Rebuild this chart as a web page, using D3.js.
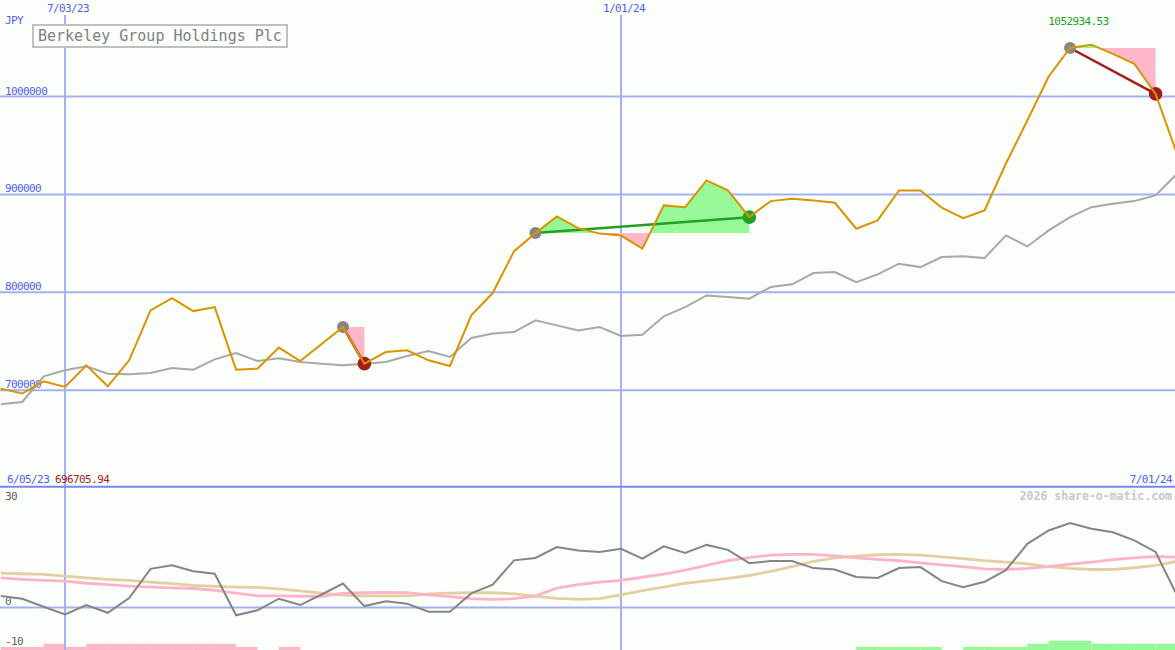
<!DOCTYPE html>
<html><head><meta charset="utf-8">
<script src="https://cdn.jsdelivr.net/npm/d3@7"></script>
<style>
html,body{margin:0;padding:0;background:#fbfefb;}
svg{display:block;}
text{font-family:"DejaVu Sans Mono",monospace;}
</style></head>
<body>
<svg id="c" width="1175" height="650"></svg>
<script>
// ---- data ----
const startDate = new Date(Date.UTC(2023,5,12));
const endDate = new Date(Date.UTC(2024,6,2));
const dates = d3.utcMonday.range(startDate, endDate);

const price = [701700,696705.94,709200,703400,725500,704100,730600,781600,794200,780900,
785000,721100,722100,743600,729900,747200,764600,727200,739100,740800,
730600,724800,776500,799300,842100,860500,877600,865600,860000,858000,
844600,888800,887000,914300,904100,876800,893200,895600,893900,891500,
865000,873500,904100,904100,886400,875800,883700,931600,975500,1020400,
1049500,1052934.53,1043500,1033400,1002700,941500];

const index = [685700,688100,714300,720400,724500,717000,716300,717700,722800,721100,
731600,738100,729900,732700,728900,727200,725500,727200,728900,735000,
740100,734000,753400,757900,759500,771400,766300,761200,764600,755400,
756800,775500,785000,796900,795200,793600,805400,808200,819700,820700,
810500,818400,829300,825800,836000,837000,835000,858200,846900,863300,
876800,887000,890500,893200,899000,921100];

const momentum = [3.3,2.5,0.2,-2.0,0.7,-1.5,2.7,11.0,12.0,10.3,
9.6,-2.2,-0.8,2.5,0.7,3.7,6.8,0.4,1.8,1.1,
-1.2,-1.2,4.0,6.5,13.4,14.1,17.2,16.2,15.8,16.7,
13.9,17.4,15.5,17.8,16.4,12.6,13.2,13.2,11.2,10.8,
8.7,8.4,11.2,11.5,7.5,5.8,7.3,10.6,18.1,21.9,
24.0,22.4,21.4,19.1,15.8,3.5];

const fastAvg = [8.4,8.0,7.7,7.5,6.9,6.5,6.1,5.8,5.6,5.4,
4.9,4.1,3.3,3.3,3.2,3.2,4.0,4.2,4.3,4.2,
3.6,3.1,2.5,2.3,2.5,3.3,5.5,6.5,7.2,7.7,
8.6,9.5,10.6,12.0,13.3,14.2,14.9,15.1,15.1,14.7,
14.1,13.7,13.3,12.7,12.1,11.6,11.0,10.8,11.1,11.6,
12.3,12.9,13.6,14.1,14.5,14.3];

const slowAvg = [9.8,9.6,9.4,8.9,8.4,8.0,7.7,7.2,6.8,6.3,
6.0,5.8,5.7,5.3,4.7,4.1,3.5,3.3,3.3,3.3,
3.9,4.1,4.2,4.2,3.9,3.2,2.6,2.3,2.5,3.6,
4.8,5.8,6.9,7.6,8.3,9.1,10.3,11.6,13.1,14.1,
14.6,15.0,15.1,14.9,14.4,13.9,13.3,12.9,12.4,11.6,
11.1,10.8,10.8,11.3,12.0,13.1];

const strength = [-1,-1,-2,-1,-2,-2,-2,-2,-2,-2,
-2,-1,0,-1,0,0,0,0,0,0,
0,0,0,0,0,0,0,0,0,0,
0,0,0,0,0,0,0,0,0,0,
1,1,1,1,0,1,1,1,2,3,
3,2,2,2,2,2];

const signalEntry = [16,25,50];
const signalExit  = [17,35,54];

const priceTicks = [700000,800000,900000,1000000];
const lowerTicks = [30,0,-10];
const dateTicks = [new Date(Date.UTC(2023,6,3)), new Date(Date.UTC(2024,0,1))];
const tickFmt = d3.utcFormat("%-m/%d/%y");
const title = "Berkeley Group Holdings Plc";
const currency = "JPY";
const headerLeftDate = new Date(Date.UTC(2023,5,5));
const headerRightDate = new Date(Date.UTC(2024,6,1));
const watermark = "2026 share-o-matic.com";

// ---- scales ----
const W = 1175, H = 650;
const svg = d3.select("#c");
const x = d3.scaleUtc().domain(dateTicks).range([65,621]);
const y = d3.scaleLinear().domain([700000,1000000]).range([390.3,96.5]);
const yl = d3.scaleLinear().domain([0,30]).range([607.5,502]);
const hb = d3.scaleLinear().domain([0,3]).range([0,9.3]);

const C = {grid:"#a3b1f2", sep:"#7787ee", blue:"#4f5ff0", orange:"#d99400", grey:"#a8a8a8",
  dgrey:"#858585", pink:"#ffb3c9", tan:"#e3cf9f", gfill:"#97f897", pfill:"#feb6c9",
  green:"#22a022", red:"#a41c1c", dot:"#858585"};

// bars at bottom of lower panel
const barG = svg.append("g");
dates.forEach((d,i)=>{
  const v = strength[i];
  if(!v) return;
  const x0 = x(d), x1 = i+1<dates.length ? x(dates[i+1]) : x(d)+21.4;
  barG.append("rect").attr("x",x0).attr("width",x1-x0)
    .attr("y",H-hb(Math.abs(v))).attr("height",hb(Math.abs(v)))
    .attr("fill", v<0 ? C.pfill : C.gfill);
});

// gridlines
svg.append("g").selectAll("line").data(priceTicks).join("line")
  .attr("x1",0).attr("x2",W).attr("y1",d=>y(d)).attr("y2",d=>y(d))
  .attr("stroke",C.grid).attr("stroke-width",2);
svg.append("line").attr("x1",0).attr("x2",W).attr("y1",yl(0)).attr("y2",yl(0))
  .attr("stroke",C.grid).attr("stroke-width",2);
svg.append("g").selectAll("line").data(dateTicks).join("line")
  .attr("x1",d=>x(d)).attr("x2",d=>x(d)).attr("y1",15).attr("y2",H)
  .attr("stroke",C.grid).attr("stroke-width",2);
svg.append("line").attr("x1",0).attr("x2",W).attr("y1",486.8).attr("y2",486.8)
  .attr("stroke",C.sep).attr("stroke-width",2);

// axis labels
svg.append("g").selectAll("text").data(dateTicks).join("text")
  .attr("x",d=>x(d)+3).attr("y",12).attr("text-anchor","middle")
  .attr("font-size",11).attr("letter-spacing",-0.6).attr("fill",C.blue).text(d=>tickFmt(d));
svg.append("g").selectAll("text").data(priceTicks).join("text")
  .attr("x",5).attr("y",d=>y(d)-2).attr("font-size",11).attr("letter-spacing",-0.6)
  .attr("fill",C.blue).text(d=>d);
svg.append("text").attr("x",5).attr("y",24).attr("font-size",11).attr("letter-spacing",-0.6)
  .attr("fill",C.blue).text(currency);
svg.append("g").selectAll("text").data(lowerTicks).join("text")
  .attr("x",5).attr("y",d=>yl(d)-2.3+(d<0?5:0)).attr("font-size",11).attr("letter-spacing",-0.6)
  .attr("fill","#606060").text(d=>d);

// header row of lower panel
svg.append("text").attr("x",7).attr("y",483).attr("font-size",11).attr("letter-spacing",-0.6)
  .attr("fill",C.blue).text(tickFmt(headerLeftDate));
svg.append("text").attr("x",55).attr("y",483).attr("font-size",11).attr("letter-spacing",-0.6)
  .attr("fill",C.red).text(d3.min(price).toFixed(2));
svg.append("text").attr("x",1172).attr("y",483).attr("text-anchor","end").attr("font-size",11).attr("letter-spacing",-0.6)
  .attr("fill",C.blue).text(tickFmt(headerRightDate));
svg.append("text").attr("x",1172).attr("y",500).attr("text-anchor","end").attr("font-size",11.5)
  .attr("font-weight","bold").attr("fill","#c8c8c8").text(watermark);

// title box
svg.append("rect").attr("x",33).attr("y",25).attr("width",254).attr("height",22)
  .attr("fill","#fbfefb").attr("stroke","#c0c0c0").attr("stroke-width",2);
svg.append("text").attr("x",38).attr("y",41).attr("font-size",15).attr("fill","#808080").text(title);

// lower panel lines
const ll = arr => d3.line().x((d,i)=>x(dates[i])).y(d=>yl(d))(arr);
svg.append("path").attr("d",ll(slowAvg)).attr("fill","none").attr("stroke",C.tan).attr("stroke-width",2.8);
svg.append("path").attr("d",ll(fastAvg)).attr("fill","none").attr("stroke",C.pink).attr("stroke-width",2.8);
svg.append("path").attr("d",ll(momentum)).attr("fill","none").attr("stroke",C.dgrey).attr("stroke-width",2);

// upper: index line
const lu = arr => d3.line().x((d,i)=>x(dates[i])).y(d=>y(d))(arr);
svg.append("path").attr("d",lu(index)).attr("fill","none").attr("stroke",C.grey).attr("stroke-width",2);

// signal fills
const defs = svg.append("defs");
signalEntry.forEach((e,s)=>{
  const xi = signalExit[s];
  const ye = y(price[e]);
  const idx = d3.range(e, xi+1);
  const area = d3.area().x(i=>x(dates[i])).y0(ye).y1(i=>y(price[i]))(idx);
  defs.append("clipPath").attr("id","up"+s).append("rect").attr("x",0).attr("y",0).attr("width",W).attr("height",ye);
  defs.append("clipPath").attr("id","dn"+s).append("rect").attr("x",0).attr("y",ye).attr("width",W).attr("height",486-ye);
  svg.append("path").attr("d",area).attr("fill",C.gfill).attr("clip-path","url(#up"+s+")");
  svg.append("path").attr("d",area).attr("fill",C.pfill).attr("clip-path","url(#dn"+s+")");
});
// signal lines & dots
signalEntry.forEach((e,s)=>{
  const xi = signalExit[s];
  const gain = price[xi] >= price[e];
  svg.append("line").attr("x1",x(dates[e])).attr("y1",y(price[e]))
    .attr("x2",x(dates[xi])).attr("y2",y(price[xi]))
    .attr("stroke",gain?C.green:C.red).attr("stroke-width",2.5);
  svg.append("circle").attr("cx",x(dates[e])).attr("cy",y(price[e])).attr("r",6).attr("fill",C.dot);
  svg.append("circle").attr("cx",x(dates[xi])).attr("cy",y(price[xi])).attr("r",6.8).attr("fill",gain?C.green:C.red);
});

// price line
svg.append("path").attr("d",lu(price)).attr("fill","none").attr("stroke",C.orange).attr("stroke-width",2);

// max label
const mi = d3.maxIndex(price);
svg.append("text").attr("x",x(dates[mi])-13).attr("y",25).attr("text-anchor","middle")
  .attr("font-size",11).attr("letter-spacing",-0.6).attr("fill",C.green).text(price[mi].toFixed(2));
</script>
</body></html>
